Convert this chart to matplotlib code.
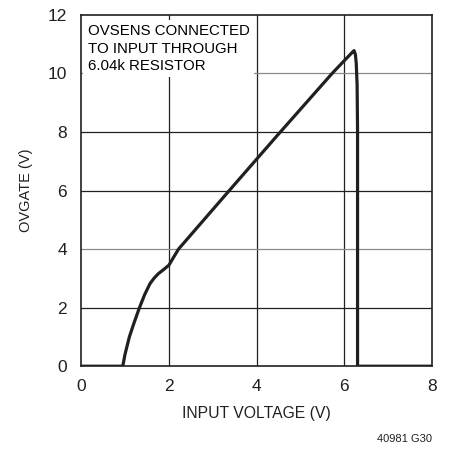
"""OVGATE vs input voltage, OVSENS through 6.04k resistor."""
import matplotlib
matplotlib.use("Agg")
import matplotlib.pyplot as plt

plt.rcParams["font.family"] = ["Liberation Sans", "DejaVu Sans"]

# curve
vin = [0.0, 0.95, 1.00, 1.10, 1.20, 1.33, 1.45, 1.57, 1.66, 1.76, 1.88,
       2.00, 2.10, 2.22, 3.33, 4.47, 5.72, 6.05, 6.18, 6.22, 6.25, 6.27,
       6.29, 6.30, 6.30, 8.0]
ovgate = [0.0, 0.0, 0.40, 1.00, 1.45, 2.00, 2.45, 2.82, 3.00, 3.16, 3.30,
          3.45, 3.70, 4.00, 5.92, 7.88, 10.00, 10.52, 10.72, 10.78, 10.65,
          10.35, 9.6, 8.0, 0.0, 0.0]

xticks = [0, 2, 4, 6, 8]
yticks = [0, 2, 4, 6, 8, 10, 12]
note = "OVSENS CONNECTED\nTO INPUT THROUGH\n6.04k RESISTOR"


def main():
    fig = plt.figure(figsize=(4.53, 4.51), dpi=100)
    ax = fig.add_axes([0.179, 0.188, 0.775, 0.779])

    for x in xticks[1:-1]:
        ax.axvline(x, color="#231f20", lw=0.9, zorder=1)
    for y in yticks[1:-1]:
        c = "#8a8a8a" if y in (4, 10) else "#231f20"
        ax.axhline(y, color=c, lw=0.9, zorder=1)

    ax.plot(vin, ovgate, color="#231f20", lw=2.3, zorder=3,
            solid_joinstyle="round", solid_capstyle="butt")

    ax.text(0.15, 11.68, note, fontsize=10.8, va="top", ha="left",
            linespacing=1.3, zorder=2,
            bbox=dict(facecolor="white", edgecolor="none", pad=3))

    ax.set_xlim(0, 8)
    ax.set_ylim(0, 12)
    ax.set_xticks(xticks)
    ax.set_yticks(yticks)
    ax.tick_params(length=0, labelsize=12.5, colors="#231f20")
    ax.tick_params(axis="x", pad=9)
    ax.tick_params(axis="y", pad=10)
    for s in ax.spines.values():
        s.set_color("#231f20")
        s.set_linewidth(1.2)

    ax.set_xlabel("INPUT VOLTAGE (V)", fontsize=11.3, color="#231f20", labelpad=9)
    ax.set_ylabel("OVGATE (V)", fontsize=10.5, color="#231f20", labelpad=11)

    fig.text(0.953, 0.015, "40981 G30", fontsize=8, ha="right", va="bottom",
             color="#231f20")

    fig.savefig("out.png", dpi=100)


if __name__ == "__main__":
    main()
